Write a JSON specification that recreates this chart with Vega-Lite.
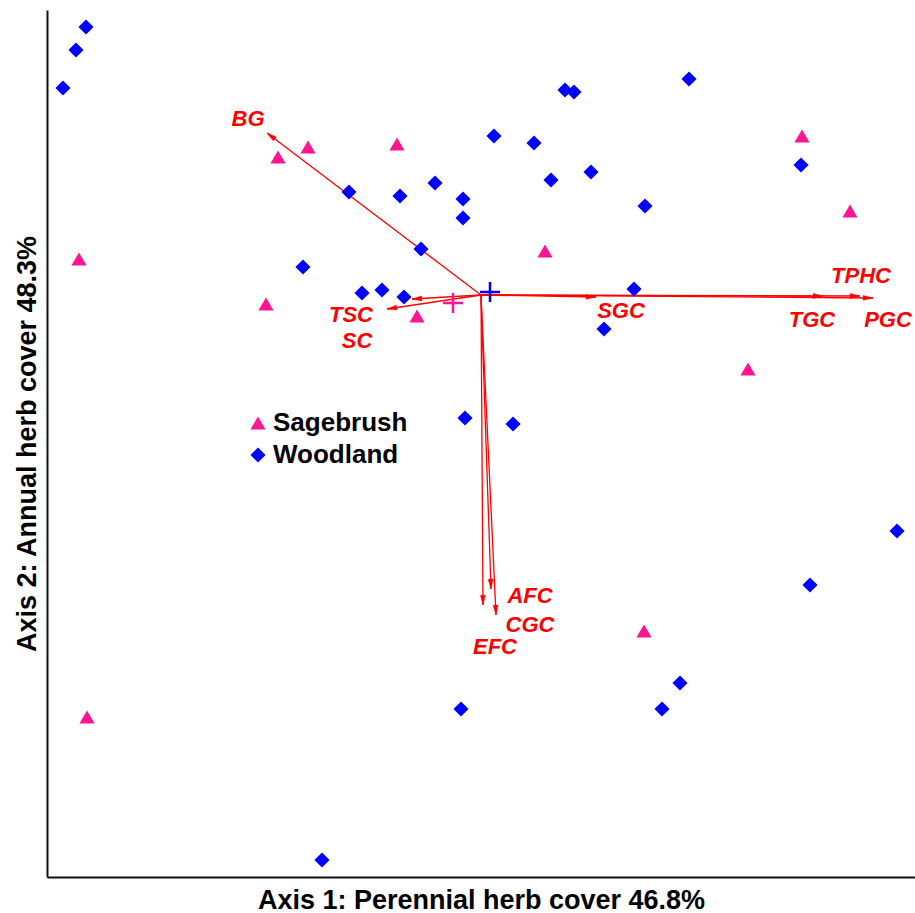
{
  "$schema": "https://vega.github.io/schema/vega-lite/v6.json",
  "width": 868,
  "height": 867,
  "autosize": {"type": "none"},
  "padding": {"left": 47, "top": 10, "right": 0, "bottom": 36},
  "background": "white",
  "config": {
    "view": {"stroke": null},
    "font": "Liberation Sans",
    "axis": {
      "domain": true, "domainColor": "#111111", "domainWidth": 2,
      "ticks": false, "labels": false, "grid": false,
      "titleFont": "Liberation Sans", "titleFontSize": 27, "titleFontWeight": "bold", "titleColor": "black",
      "titleBaseline": "alphabetic"
    },
    "legend": {
      "padding": 0, "labelFont": "Liberation Sans", "labelFontSize": 26, "labelFontWeight": "bold",
      "labelColor": "black", "symbolSize": 230, "symbolStrokeWidth": 0, "labelOffset": 2, "rowPadding": 6
    }
  },
  "datasets": {
    "sites": [
      {"x": 39, "y": 850, "group": "Woodland"},
      {"x": 29, "y": 827, "group": "Woodland"},
      {"x": 16, "y": 789, "group": "Woodland"},
      {"x": 642, "y": 798, "group": "Woodland"},
      {"x": 518, "y": 787, "group": "Woodland"},
      {"x": 527, "y": 785, "group": "Woodland"},
      {"x": 447, "y": 741, "group": "Woodland"},
      {"x": 487, "y": 734, "group": "Woodland"},
      {"x": 754, "y": 712, "group": "Woodland"},
      {"x": 544, "y": 705, "group": "Woodland"},
      {"x": 504, "y": 697, "group": "Woodland"},
      {"x": 388, "y": 694, "group": "Woodland"},
      {"x": 302, "y": 685, "group": "Woodland"},
      {"x": 353, "y": 681, "group": "Woodland"},
      {"x": 416, "y": 678, "group": "Woodland"},
      {"x": 598, "y": 671, "group": "Woodland"},
      {"x": 416, "y": 659, "group": "Woodland"},
      {"x": 374, "y": 628, "group": "Woodland"},
      {"x": 256, "y": 610, "group": "Woodland"},
      {"x": 315, "y": 584, "group": "Woodland"},
      {"x": 335, "y": 587, "group": "Woodland"},
      {"x": 357, "y": 580, "group": "Woodland"},
      {"x": 587, "y": 588, "group": "Woodland"},
      {"x": 557, "y": 548, "group": "Woodland"},
      {"x": 418, "y": 459, "group": "Woodland"},
      {"x": 466, "y": 453, "group": "Woodland"},
      {"x": 850, "y": 346, "group": "Woodland"},
      {"x": 763, "y": 292, "group": "Woodland"},
      {"x": 633, "y": 194, "group": "Woodland"},
      {"x": 414, "y": 168, "group": "Woodland"},
      {"x": 615, "y": 168, "group": "Woodland"},
      {"x": 275, "y": 17, "group": "Woodland"},
      {"x": 755, "y": 741, "group": "Sagebrush"},
      {"x": 261, "y": 730, "group": "Sagebrush"},
      {"x": 350, "y": 733, "group": "Sagebrush"},
      {"x": 231, "y": 720, "group": "Sagebrush"},
      {"x": 803, "y": 666, "group": "Sagebrush"},
      {"x": 32, "y": 618, "group": "Sagebrush"},
      {"x": 498, "y": 626, "group": "Sagebrush"},
      {"x": 219, "y": 573, "group": "Sagebrush"},
      {"x": 370, "y": 561, "group": "Sagebrush"},
      {"x": 701, "y": 508, "group": "Sagebrush"},
      {"x": 597, "y": 246, "group": "Sagebrush"},
      {"x": 40, "y": 160, "group": "Sagebrush"}
    ],
    "vectors": [
      {"name": "BG", "x": 434, "y": 582, "x2": 220, "y2": 744, "lx": 201, "ly": 758},
      {"name": "TSC", "x": 434, "y": 582, "x2": 340, "y2": 568, "lx": 304, "ly": 562},
      {"name": "SC", "x": 434, "y": 582, "x2": 365, "y2": 578, "lx": 310, "ly": 536},
      {"name": "SGC", "x": 434, "y": 582, "x2": 549, "y2": 580, "lx": 574, "ly": 566},
      {"name": "TGC", "x": 434, "y": 582, "x2": 776, "y2": 581, "lx": 765, "ly": 557},
      {"name": "TPHC", "x": 434, "y": 582, "x2": 813, "y2": 581, "lx": 814, "ly": 601},
      {"name": "PGC", "x": 434, "y": 582, "x2": 826, "y2": 579, "lx": 841, "ly": 557},
      {"name": "AFC", "x": 434, "y": 582, "x2": 444, "y2": 288, "lx": 483, "ly": 281},
      {"name": "CGC", "x": 434, "y": 582, "x2": 449, "y2": 262, "lx": 483, "ly": 252},
      {"name": "EFC", "x": 434, "y": 582, "x2": 436, "y2": 272, "lx": 448, "ly": 230}
    ],
    "centroids": [
      {"x": 443, "y": 585, "group": "Woodland"},
      {"x": 406, "y": 574, "group": "Sagebrush"}
    ]
  },
  "layer": [
    {
      "data": {"name": "vectors"},
      "mark": {"type": "rule", "color": "#FF0000", "strokeWidth": 1.3},
      "encoding": {
        "x": {"field": "x", "type": "quantitative", "scale": {"domain": [0, 868], "nice": false, "zero": false}, "axis": {"title": "Axis 1: Perennial herb cover 46.8%", "titleY": 31}},
        "y": {"field": "y", "type": "quantitative", "scale": {"domain": [0, 867], "nice": false, "zero": false}, "axis": {"title": "Axis 2: Annual herb cover 48.3%", "titleX": -12}},
        "x2": {"field": "x2"},
        "y2": {"field": "y2"}
      }
    },
    {
      "data": {"name": "vectors"},
      "transform": [{"calculate": "atan2(datum.x2 - datum.x, datum.y2 - datum.y) * 180 / PI", "as": "ang"}],
      "mark": {"type": "point", "filled": true, "fill": "#FF0000", "stroke": "#FF0000", "opacity": 1, "shape": "M0,0L0.4,1.6L-0.4,1.6Z", "size": 150, "strokeWidth": 0.5},
      "encoding": {
        "x": {"field": "x2", "type": "quantitative", "title": "Axis 1: Perennial herb cover 46.8%"},
        "y": {"field": "y2", "type": "quantitative", "title": "Axis 2: Annual herb cover 48.3%"},
        "angle": {"field": "ang", "type": "quantitative", "scale": null}
      }
    },
    {
      "data": {"name": "sites"},
      "mark": {"type": "point", "filled": true, "opacity": 1, "size": 230, "strokeWidth": 0},
      "encoding": {
        "x": {"field": "x", "type": "quantitative", "title": "Axis 1: Perennial herb cover 46.8%"},
        "y": {"field": "y", "type": "quantitative", "title": "Axis 2: Annual herb cover 48.3%"},
        "shape": {"field": "group", "type": "nominal", "scale": {"domain": ["Sagebrush", "Woodland"], "range": ["triangle-up", "diamond"]},
          "legend": {"title": null, "orient": "none", "legendX": 198, "legendY": 400}},
        "color": {"field": "group", "type": "nominal", "scale": {"domain": ["Sagebrush", "Woodland"], "range": ["#FF1493", "#0000FF"]},
          "legend": {"title": null, "orient": "none", "legendX": 198, "legendY": 400}}
      }
    },
    {
      "data": {"name": "centroids"},
      "mark": {"type": "point", "filled": false, "opacity": 1, "shape": "M-1,0L1,0M0,-1L0,1", "size": 400, "strokeWidth": 2.5},
      "encoding": {
        "x": {"field": "x", "type": "quantitative", "title": "Axis 1: Perennial herb cover 46.8%"},
        "y": {"field": "y", "type": "quantitative", "title": "Axis 2: Annual herb cover 48.3%"},
        "color": {"field": "group", "type": "nominal"}
      }
    },
    {
      "data": {"name": "vectors"},
      "mark": {"type": "text", "color": "#FF0000", "font": "Liberation Sans", "fontSize": 22, "fontWeight": "bold", "fontStyle": "italic", "align": "center", "baseline": "middle"},
      "encoding": {
        "x": {"field": "lx", "type": "quantitative", "title": "Axis 1: Perennial herb cover 46.8%"},
        "y": {"field": "ly", "type": "quantitative", "title": "Axis 2: Annual herb cover 48.3%"},
        "text": {"field": "name", "type": "nominal"}
      }
    }
  ]
}
